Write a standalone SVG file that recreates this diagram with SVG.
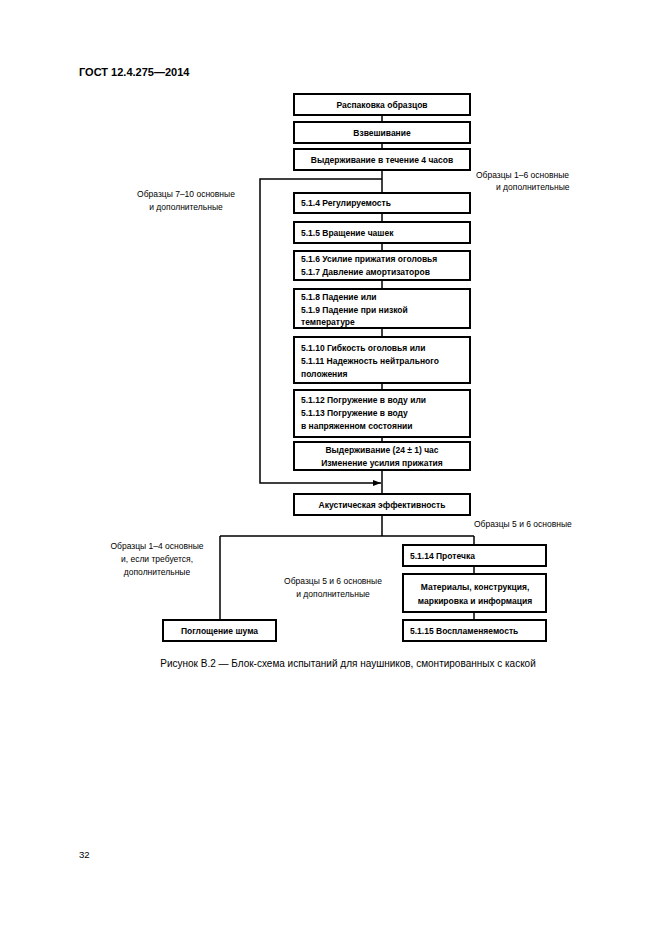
<svg xmlns="http://www.w3.org/2000/svg" width="661" height="936" viewBox="0 0 661 936">
<defs>
<style>
.b{fill:#fff;stroke:#000;stroke-width:2}
.t{font-family:"Liberation Sans",Arial,sans-serif;font-size:8.5px;font-weight:bold;fill:#000}
.c{text-anchor:middle}
.l{font-family:"Liberation Sans",Arial,sans-serif;font-size:8.5px;fill:#000}
.w{fill:none;stroke:#000;stroke-width:1.5}
</style>
<marker id="ar" markerWidth="8" markerHeight="6" refX="8" refY="3" orient="auto" markerUnits="userSpaceOnUse">
<path d="M0,0 L8,3 L0,6 Z" fill="#000"/>
</marker>
</defs>
<rect width="661" height="936" fill="#fff"/>
<text x="79" y="76" font-family="Liberation Sans,Arial,sans-serif" font-size="11" font-weight="bold">ГОСТ 12.4.275—2014</text>
<g id="connectors">
<path class="w" d="M382,115 V494"/>
<path class="w" d="M382,179 H260 V483 H381" marker-end="url(#ar)"/>
<path class="w" d="M382,515 V536 M220,536 H474 M220,536 V620 M474,536 V545 M474,566 V574 M474,612 V620"/>
</g>
<g id="n1"><rect class="b" x="294" y="94" width="176" height="21"/><text class="t c" x="382" y="108">Распаковка образцов</text></g>
<g id="n2"><rect class="b" x="294" y="122" width="176" height="21"/><text class="t c" x="382" y="136">Взвешивание</text></g>
<g id="n3"><rect class="b" x="294" y="149" width="176" height="21"/><text class="t c" x="382" y="163">Выдерживание в течение 4 часов</text></g>
<g id="lab1"><text class="l" x="476" y="178">Образцы 1–6 основные</text><text class="l" x="496" y="190">и дополнительные</text></g>
<g id="lab2"><text class="l c" x="186" y="197">Образцы 7–10 основные</text><text class="l c" x="186" y="210">и дополнительные</text></g>
<g id="n4"><rect class="b" x="294" y="193" width="176" height="20"/><text class="t" x="301" y="206">5.1.4 Регулируемость</text></g>
<g id="n5"><rect class="b" x="294" y="222" width="176" height="21"/><text class="t" x="301" y="236">5.1.5 Вращение чашек</text></g>
<g id="n6"><rect class="b" x="294" y="251" width="176" height="29"/><text class="t" x="301" y="262">5.1.6 Усилие прижатия оголовья</text><text class="t" x="301" y="275">5.1.7 Давление амортизаторов</text></g>
<g id="n7"><rect class="b" x="294" y="289" width="176" height="39"/><text class="t" x="301" y="300">5.1.8 Падение или</text><text class="t" x="301" y="313">5.1.9 Падение при низкой</text><text class="t" x="301" y="325">температуре</text></g>
<g id="n8"><rect class="b" x="294" y="337" width="176" height="46"/><text class="t" x="301" y="351">5.1.10 Гибкость оголовья или</text><text class="t" x="301" y="364">5.1.11 Надежность нейтрального</text><text class="t" x="301" y="377">положения</text></g>
<g id="n9"><rect class="b" x="294" y="390" width="176" height="47"/><text class="t" x="301" y="403">5.1.12 Погружение в воду или</text><text class="t" x="301" y="416">5.1.13 Погружение в воду</text><text class="t" x="301" y="429">в напряженном состоянии</text></g>
<g id="n10"><rect class="b" x="294" y="442" width="176" height="28"/><text class="t c" x="382" y="453">Выдерживание (24 ± 1) час</text><text class="t c" x="382" y="466">Изменение усилия прижатия</text></g>
<g id="n11"><rect class="b" x="294" y="494" width="176" height="21"/><text class="t c" x="382" y="508">Акустическая эффективность</text></g>
<g id="lab3"><text class="l" x="474" y="527">Образцы 5 и 6 основные</text></g>
<g id="lab4"><text class="l c" x="157" y="549">Образцы 1–4 основные</text><text class="l c" x="157" y="562">и, если требуется,</text><text class="l c" x="157" y="575">дополнительные</text></g>
<g id="lab5"><text class="l c" x="333" y="584">Образцы 5 и 6 основные</text><text class="l c" x="333" y="597">и дополнительные</text></g>
<g id="n12"><rect class="b" x="403" y="545" width="143" height="21"/><text class="t" x="410" y="559">5.1.14 Протечка</text></g>
<g id="n13"><rect class="b" x="403" y="574" width="143" height="38"/><text class="t c" x="475" y="590">Материалы, конструкция,</text><text class="t c" x="475" y="604">маркировка и информация</text></g>
<g id="n14"><rect class="b" x="403" y="620" width="143" height="21"/><text class="t" x="410" y="634">5.1.15 Воспламеняемость</text></g>
<g id="n15"><rect class="b" x="163" y="620" width="113" height="21"/><text class="t c" x="219.5" y="634">Поглощение шума</text></g>
<text x="348" y="667" text-anchor="middle" font-family="Liberation Sans,Arial,sans-serif" font-size="10">Рисунок В.2 — Блок-схема испытаний для наушников, смонтированных с каской</text>
<text x="79" y="858" font-family="Liberation Sans,Arial,sans-serif" font-size="9.5">32</text>
</svg>
